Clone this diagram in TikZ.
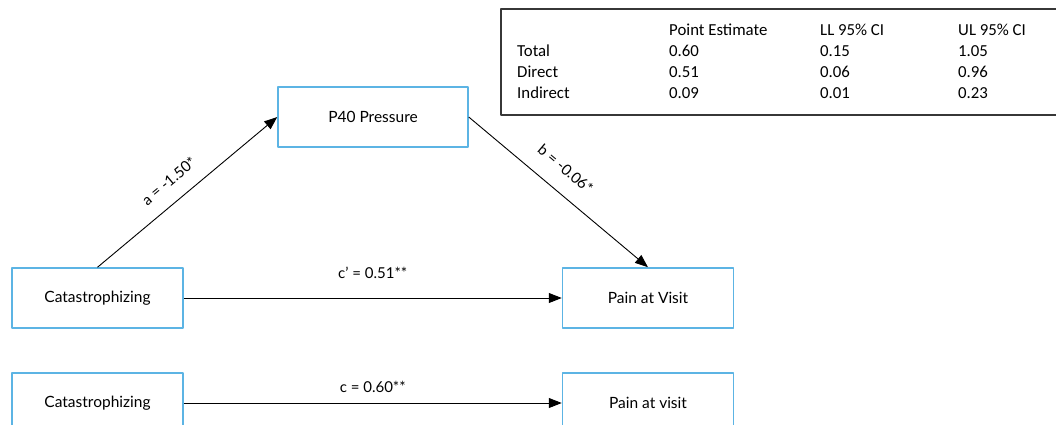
\documentclass[tikz,border=0pt]{standalone}
\usepackage{fontspec}
\setmainfont{Lato}
\newfontfamily\tabfont{Carlito}
\usetikzlibrary{arrows.meta}
\definecolor{boxblue}{RGB}{92,180,228}
\definecolor{framegray}{RGB}{55,55,55}
\tikzset{
 var/.style={draw=boxblue, line width=1.5pt, minimum width=171pt, minimum height=60pt, inner sep=0pt, font=\fontsize{15.5}{18}\selectfont},
 effect/.style={->, line width=0.9pt},
 cell/.style={anchor=base west, inner sep=0pt, font=\tabfont\fontsize{16.8}{19}\selectfont}
}
\begin{document}
\begin{tikzpicture}[x=1pt, y=-1pt, font=\fontsize{15}{18}\selectfont, line join=round, >={Triangle[length=13pt,width=10pt]}]
 \useasboundingbox (0,0) rectangle (1056,424);
 % mediation model
 \node[var, minimum width=190pt] (pres) at (373,117) {P40 Pressure};
 \node[var] (cat) at (97.5,298) {Catastrophizing};
 \node[var] (pain) at (648,298) {Pain at Visit};
 \draw[effect] (cat.north) -- (pres.west) node[pos=0.47, sloped, above=11pt]{a = -1.50*};
 \draw[effect] (pres.east) -- (pain.north) node[pos=0.46, sloped, above=13pt]{b = -0.06*};
 \draw[effect] (cat.east) -- (pain.west) node[midway, above=16pt]{c’ = 0.51**};
 % total effect
 \node[var] (cat2) at (97.5,403) {Catastrophizing};
 \node[var] (pain2) at (648,403) {Pain at visit};
 \draw[effect] (cat2.east) -- (pain2.west) node[midway, above=7pt]{c = 0.60**};
 % effects table
 \draw[framegray, line width=1.4pt] (501,9) rectangle (1062,115);
 \node[cell] (hpe) at (669,35) {Point Estimate};
 \node[cell] (hll) at (820,35) {LL 95\% CI};
 \node[cell] (hul) at (958,35) {UL 95\% CI};
 \foreach \row/\y/\pe/\ll/\ul in {Total/56/0.60/0.15/1.05, Direct/77/0.51/0.06/0.96, Indirect/98/0.09/0.01/0.23}{
  \node[cell] (\row) at (517,\y) {\row};
  \node[cell] (\row-pe) at (669,\y) {\pe};
  \node[cell] (\row-ll) at (820,\y) {\ll};
  \node[cell] (\row-ul) at (958,\y) {\ul};
 }
\end{tikzpicture}
\end{document}
